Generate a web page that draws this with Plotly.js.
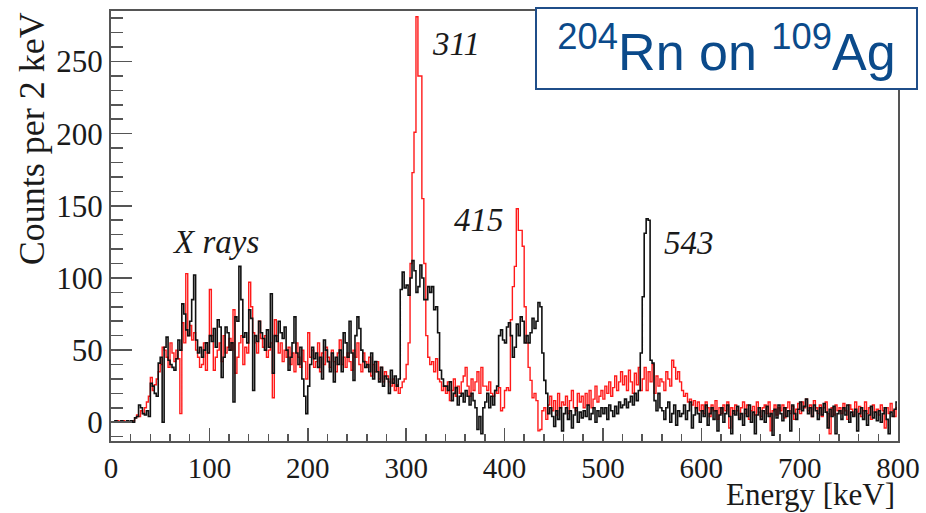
<!DOCTYPE html>
<html>
<head>
<meta charset="utf-8">
<script src="https://cdn.plot.ly/plotly-3.0.1.min.js"></script>
<style>html,body{margin:0;padding:0;background:#fff;}#chart{width:926px;height:513px;}</style>
</head>
<body>
<div id="chart"></div>
<script>
// Histogram bins: 2 keV wide, starting at 0 keV (400 bins up to 800 keV)
const binStart = 0;
const binWidth = 2;

// Black histogram, counts per 2 keV (rows of 10 bins = 20 keV)
const blackCounts = [
  0,0,1,0,0,1,0,0,1,0,
  1,0,3,4,12,10,6,5,8,4,
  27,25,20,18,41,45,0,52,59,43,
  40,38,36,44,57,50,82,75,64,60,
  70,85,102,57,48,52,45,50,55,48,
  60,56,65,52,71,66,31,45,66,62,
  50,55,14,73,70,108,85,59,62,55,
  78,72,22,60,56,70,62,58,50,64,
  52,89,34,60,56,70,62,58,66,50,
  36,45,55,73,48,40,52,30,18,6,
  25,40,52,44,48,38,45,30,57,50,
  42,35,48,28,45,40,50,35,62,55,
  45,70,48,29,60,73,65,50,42,38,
  40,35,48,30,42,35,28,38,25,32,
  30,20,36,27,32,25,30,92,104,93,
  95,88,100,112,105,90,94,109,100,85,
  85,94,90,94,78,80,62,36,30,25,
  25,22,28,15,20,24,12,18,20,14,
  22,18,12,20,15,10,-5,4,-8,10,
  14,20,10,18,12,22,25,60,64,57,
  55,66,69,60,45,52,68,60,73,70,
  55,60,55,62,72,65,70,83,80,48,
  29,20,6,10,4,-3,8,2,10,-6,
  6,10,2,8,-4,5,10,0,7,3,
  8,4,12,2,6,10,0,8,4,10,
  6,10,2,12,8,4,11,6,14,10,
  12,16,10,14,18,12,20,15,22,48,
  87,131,141,140,43,41,15,8,20,10,
  8,2,10,14,0,6,12,-2,8,4,
  6,12,2,8,14,-4,5,10,6,0,
  8,4,12,-2,6,10,2,8,-6,5,
  10,0,6,12,4,-8,8,5,11,2,
  6,-2,9,4,12,0,7,-8,5,10,
  2,8,0,11,4,6,-9,9,3,12,
  6,1,10,4,8,-6,12,6,2,9,
  14,8,11,16,6,10,4,12,8,2,
  10,5,13,7,-4,9,4,11,-8,6,
  8,2,10,5,12,0,7,4,9,-6,
  6,10,2,8,-2,5,11,3,7,1,
  8,0,6,10,2,-8,7,4,9,14
];

// Red histogram, counts per 2 keV (rows of 10 bins = 20 keV)
const redCounts = [
  0,0,0,1,0,0,1,0,0,0,
  0,1,3,5,4,8,6,10,14,18,
  31,22,26,30,35,40,52,50,45,38,
  55,48,42,50,44,6,69,55,103,60,
  67,57,62,50,45,38,40,55,36,48,
  92,60,36,45,50,55,42,60,48,52,
  58,50,78,34,45,55,60,40,52,48,
  97,80,62,55,48,70,58,52,60,45,
  50,55,17,71,60,48,55,42,50,45,
  52,40,48,35,55,45,38,50,42,30,
  62,45,50,38,42,55,35,48,40,52,
  45,38,50,42,35,48,57,40,45,38,
  48,42,36,50,45,55,40,35,48,42,
  38,45,32,40,35,42,30,38,28,35,
  32,28,25,30,22,26,20,24,28,30,
  40,55,110,173,201,281,240,240,155,110,
  60,45,40,42,35,44,30,28,22,25,
  20,28,15,22,30,18,25,20,28,32,
  38,25,18,30,22,28,35,20,38,25,
  25,22,28,20,18,22,20,24,8,10,
  22,24,22,71,94,108,148,133,133,122,
  80,55,38,29,17,20,15,-6,-5,8,
  10,2,12,18,8,15,5,20,10,14,
  12,18,6,15,22,10,8,20,14,18,
  10,20,12,22,10,16,25,14,18,22,
  16,25,20,28,18,24,32,22,28,35,
  26,32,22,36,28,20,34,26,38,22,
  30,38,22,35,28,40,20,32,25,30,
  28,22,35,30,25,43,38,30,35,28,
  22,18,20,14,16,12,15,10,14,8,
  12,6,14,10,4,12,8,15,2,10,
  6,12,8,14,-4,10,6,12,8,3,
  10,14,6,12,2,8,11,5,14,7,
  4,10,12,6,14,-6,8,12,5,10,
  8,12,3,10,14,6,11,2,9,13,
  6,14,10,16,8,12,4,15,10,6,
  12,4,10,14,6,-8,10,5,12,8,
  10,6,13,8,2,12,9,5,14,7,
  11,4,8,14,6,10,2,12,7,9,
  5,12,8,-4,10,6,13,8,4,10
];

// Peak labels
const peakLabels = ["311", "415", "543", "X rays"];
const peakLabelEnergy = [351, 374, 588, 106];
const peakLabelCounts = [262, 140, 124, 125];

const serif = "'Liberation Serif', 'DejaVu Serif', serif";
const axisGrey = '#555555';

const traces = [
  {
    type: 'scatter', mode: 'lines',
    x0: binStart + binWidth / 2, dx: binWidth, y: redCounts,
    line: {color: '#ff1a1a', width: 1.4, shape: 'hvh'},
    hoverinfo: 'skip', showlegend: false
  },
  {
    type: 'scatter', mode: 'lines',
    x0: binStart + binWidth / 2, dx: binWidth, y: blackCounts,
    line: {color: '#111111', width: 1.6, shape: 'hvh'},
    hoverinfo: 'skip', showlegend: false
  }
];

const annotations = peakLabels.map((t, i) => ({
  text: t, x: peakLabelEnergy[i], y: peakLabelCounts[i],
  xref: 'x', yref: 'y', showarrow: false,
  font: {family: serif, size: 33, color: '#1a1a1a', style: 'italic'}
}));

annotations.push({
  text: 'Energy [keV]', xref: 'paper', yref: 'paper',
  x: 0.997, y: -0.168, xanchor: 'right', yanchor: 'bottom', showarrow: false,
  borderpad: 0,
  font: {family: serif, size: 31, color: '#1a1a1a'}
});
annotations.push({
  text: 'Counts per 2 keV', xref: 'paper', yref: 'paper', textangle: -90,
  x: -0.1004, y: 1.003, xanchor: 'center', yanchor: 'top', showarrow: false,
  font: {family: serif, size: 36, color: '#1a1a1a'}
});
annotations.push({
  text: '<sup>204</sup>Rn on <sup>109</sup>Ag', xref: 'paper', yref: 'paper',
  x: 0.782, y: 0.913, xanchor: 'center', yanchor: 'middle', showarrow: false,
  width: 379, height: 79, borderpad: 0, borderwidth: 2,
  bordercolor: '#1f4e89', bgcolor: '#ffffff',
  font: {family: "'Liberation Sans', Arial, sans-serif", size: 52, color: '#0b4a8a'}
});

const layout = {
  width: 926, height: 513,
  margin: {l: 111, r: 28, t: 11, b: 72},
  paper_bgcolor: '#ffffff', plot_bgcolor: '#ffffff',
  showlegend: false,
  xaxis: {
    range: [0, 800], dtick: 100, tick0: 0,
    ticks: 'inside', ticklen: 13, tickwidth: 1.5, tickcolor: axisGrey,
    minor: {dtick: 20, ticks: 'inside', ticklen: 7, tickwidth: 1.5, tickcolor: axisGrey},
    showline: true, linecolor: axisGrey, linewidth: 2, mirror: true,
    showgrid: false, zeroline: false,
    tickfont: {family: serif, size: 29, color: '#1a1a1a'}
  },
  yaxis: {
    range: [-13, 285], dtick: 50, tick0: 0,
    ticks: 'inside', ticklen: 21, tickwidth: 1.5, tickcolor: axisGrey,
    minor: {dtick: 10, ticks: 'inside', ticklen: 12, tickwidth: 1.5, tickcolor: axisGrey},
    showline: true, linecolor: axisGrey, linewidth: 2, mirror: true,
    showgrid: false, zeroline: false,
    tickfont: {family: serif, size: 31, color: '#1a1a1a'}
  },
  annotations: annotations
};

Plotly.newPlot('chart', traces, layout, {staticPlot: true, displayModeBar: false});
</script>
</body>
</html>
